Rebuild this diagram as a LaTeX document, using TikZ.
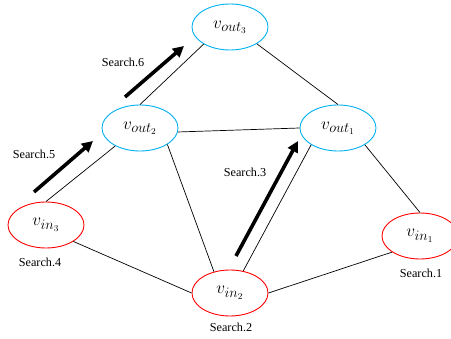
\documentclass[tikz,border=0pt]{standalone}
\usepackage{fontspec}
\setmainfont{Liberation Serif}
\usetikzlibrary{shapes.geometric,arrows.meta}
\definecolor{outblue}{HTML}{00B0F0}
\definecolor{inred}{HTML}{FF0000}
\begin{document}
\begin{tikzpicture}[x=1pt,y=-1pt,
  vnode/.style={ellipse,draw,line width=0.9pt,minimum width=76pt,minimum height=46pt,inner sep=0pt,font=\fontsize{19}{21}\selectfont},
  outnode/.style={vnode,draw=outblue},
  innode/.style={vnode,draw=inred},
  edge/.style={draw=black,line width=0.7pt},
  searcharrow/.style={line width=3.6pt,-{Triangle[length=11pt,width=11pt]}},
  tag/.style={font=\fontsize{12.2}{14}\selectfont,inner sep=0pt}]
\useasboundingbox (0,0) rectangle (451,339);
\clip (0,0) rectangle (451,339);

% vertices
\node[outnode] (vout3) at (230,27)  {$v_{out_3}$};
\node[outnode] (vout2) at (140,128) {$v_{out_2}$};
\node[outnode] (vout1) at (338,128) {$v_{out_1}$};
\node[innode]  (vin3)  at (46,225)  {$v_{in_3}$};
\node[innode]  (vin2)  at (230,293) {$v_{in_2}$};
\node[innode]  (vin1)  at (420,236) {$v_{in_1}$};

% edges
\draw[edge] (vout3.-147) -- (vout2.90);
\draw[edge] (vout3.-32)  -- (vout1.90);
\draw[edge] (vout2.-6)   -- (vout1.180);
\draw[edge] (vout2.-144) -- (vin3.90);
\draw[edge] (vout2.-31)  -- (vin2.127);
\draw[edge] (vout1.-148) -- (vin2.59);
\draw[edge] (vout1.-32)  -- (vin1.90);
\draw[edge] (vin3.-31)   -- (vin2.180);
\draw[edge] (vin2.0)     -- (vin1.-150);

% search steps
\coordinate (s6a) at (125,97);  \coordinate (s6b) at (184,46);
\coordinate (s5a) at (34,192);  \coordinate (s5b) at (93,141);
\coordinate (s3a) at (236,256); \coordinate (s3b) at (298,141);
\draw[searcharrow] (s6a) -- (s6b);
\draw[searcharrow] (s5a) -- (s5b);
\draw[searcharrow] (s3a) -- (s3b);

\node[tag] (t6) at (123,62)  {Search.6};
\node[tag] (t5) at (34,154)  {Search.5};
\node[tag] (t3) at (245,172) {Search.3};
\node[tag] (t4) at (40,262)  {Search.4};
\node[tag] (t1) at (421,273) {Search.1};
\node[tag] (t2) at (231,327) {Search.2};
\end{tikzpicture}
\end{document}
